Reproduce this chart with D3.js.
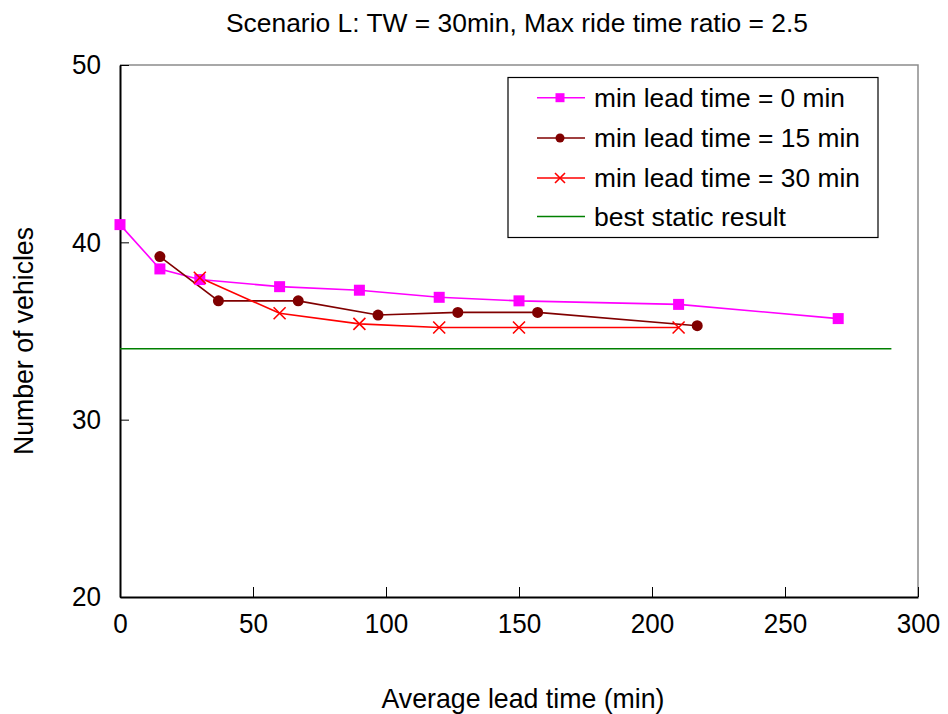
<!DOCTYPE html>
<html>
<head>
<meta charset="utf-8">
<script src="https://cdn.jsdelivr.net/npm/d3@7"></script>
<style>
  html, body { margin: 0; padding: 0; background: #fff; }
  svg { display: block; font-family: "Liberation Sans", Arial, sans-serif; }
</style>
</head>
<body>
<svg id="chart" width="948" height="714"></svg>
<script>
// ---- data ----
const title = "Scenario L: TW = 30min, Max ride time ratio = 2.5";
const xLabel = "Average lead time (min)";
const yLabel = "Number of vehicles";
const xTicks = [0, 50, 100, 150, 200, 250, 300];
const yTicks = [20, 30, 40, 50];

const leadTime0 = [0, 15, 30, 60, 90, 120, 150, 210, 270];
const vehicles0 = [41.0, 38.5, 37.9, 37.5, 37.3, 36.9, 36.7, 36.5, 35.7];

const leadTime15 = [15, 37, 67, 97, 127, 157, 217];
const vehicles15 = [39.2, 36.7, 36.7, 35.9, 36.05, 36.05, 35.3];

const leadTime30 = [30, 60, 90, 120, 150, 210];
const vehicles30 = [38.0, 36.0, 35.4, 35.2, 35.2, 35.2];

const staticLead = [0, 290];
const staticVehicles = [34, 34];

const seriesNames = ["min lead time = 0 min", "min lead time = 15 min", "min lead time = 30 min", "best static result"];

// ---- layout ----
const svg = d3.select("#chart");
const pLeft = 120, pRight = 918, pTop = 65, pBottom = 597;
const x = d3.scaleLinear().domain([0, 300]).range([pLeft, pRight]);
const y = d3.scaleLinear().domain([20, 50]).range([pBottom, pTop]);

const series = [
  { name: seriesNames[0], xs: leadTime0, ys: vehicles0, color: "#FF00FF", marker: "square" },
  { name: seriesNames[1], xs: leadTime15, ys: vehicles15, color: "#800000", marker: "circle" },
  { name: seriesNames[2], xs: leadTime30, ys: vehicles30, color: "#FF0000", marker: "cross" },
  { name: seriesNames[3], xs: staticLead, ys: staticVehicles, color: "#008000", marker: "none" }
];

// plot border (top & right gray)
svg.append("path")
  .attr("d", `M${pLeft},${pTop}H${pRight}V${pBottom}`)
  .attr("fill", "none").attr("stroke", "#8c8c8c").attr("stroke-width", 1.5);

// axes
const xAxis = d3.axisBottom(x).tickValues(xTicks).tickSizeInner(-10).tickSizeOuter(0).tickPadding(28);
const yAxis = d3.axisLeft(y).tickValues(yTicks).tickSizeInner(-9).tickSizeOuter(0).tickPadding(19);

const gx = svg.append("g").attr("transform", `translate(0,${pBottom})`).call(xAxis);
const gy = svg.append("g").attr("transform", `translate(${pLeft},0)`).call(yAxis);
[gx, gy].forEach(g => {
  g.select(".domain").attr("stroke", "#000").attr("stroke-width", 2);
  g.selectAll(".tick line").attr("stroke", "#000").attr("stroke-width", 1);
  g.selectAll(".tick text").attr("font-size", 28).attr("fill", "#000")
    .attr("font-family", "'Liberation Sans', Arial, sans-serif")
    .attr("textLength", d => String(d).length * 14.5).attr("lengthAdjust", "spacingAndGlyphs");
});
gx.selectAll(".tick text").attr("dy", "0.3em");

// markers
function drawMarker(g, type, cx, cy, color, s) {
  if (type === "square") {
    g.append("rect").attr("x", cx - s / 2).attr("y", cy - s / 2).attr("width", s).attr("height", s).attr("fill", color);
  } else if (type === "circle") {
    g.append("circle").attr("cx", cx).attr("cy", cy).attr("r", s / 2).attr("fill", color);
  } else if (type === "cross") {
    const h = s / 2;
    g.append("path").attr("d", `M${cx - h},${cy - h}L${cx + h},${cy + h}M${cx - h},${cy + h}L${cx + h},${cy - h}`)
      .attr("stroke", color).attr("stroke-width", 1.6).attr("fill", "none");
  }
}

const line = d3.line().x(d => x(d[0])).y(d => y(d[1]));
const markerSize = { square: 11, circle: 11, cross: 12 };

// draw static line first, then series
const order = [3, 0, 1, 2];
order.forEach(i => {
  const s = series[i];
  const pts = s.xs.map((v, j) => [v, s.ys[j]]);
  svg.append("path").datum(pts).attr("d", line)
    .attr("fill", "none").attr("stroke", s.color).attr("stroke-width", 1.6);
});
order.forEach(i => {
  const s = series[i];
  if (s.marker === "none") return;
  const g = svg.append("g");
  s.xs.forEach((v, j) => drawMarker(g, s.marker, x(v), y(s.ys[j]), s.color, markerSize[s.marker]));
});

// legend
const lg = svg.append("g");
lg.append("rect").attr("x", 508).attr("y", 77.5).attr("width", 370).attr("height", 160)
  .attr("fill", "#fff").attr("stroke", "#000").attr("stroke-width", 1.2);
const rowY = [97.7, 138, 178, 216.5];
const textW = [251, 266, 266, 192];
const legendMarker = { square: 9, circle: 9, cross: 10 };
series.forEach((s, i) => {
  lg.append("line").attr("x1", 537).attr("x2", 585).attr("y1", rowY[i]).attr("y2", rowY[i])
    .attr("stroke", s.color).attr("stroke-width", 1.6);
  if (s.marker !== "none") drawMarker(lg, s.marker, 560, rowY[i], s.color, legendMarker[s.marker]);
  lg.append("text").attr("x", 594).attr("y", rowY[i]).attr("dy", "0.36em")
    .attr("font-size", 26).attr("fill", "#000")
    .attr("textLength", textW[i]).attr("lengthAdjust", "spacingAndGlyphs")
    .text(s.name);
});

// title
svg.append("text").attr("x", 517).attr("y", 32).attr("text-anchor", "middle")
  .attr("font-size", 26).attr("fill", "#000")
  .attr("textLength", 582).attr("lengthAdjust", "spacingAndGlyphs")
  .text(title);

// axis titles
svg.append("text").attr("x", 523).attr("y", 708).attr("text-anchor", "middle")
  .attr("font-size", 28).attr("fill", "#000")
  .attr("textLength", 283).attr("lengthAdjust", "spacingAndGlyphs")
  .text(xLabel);

svg.append("text").attr("transform", "translate(33,341) rotate(-90)").attr("text-anchor", "middle")
  .attr("font-size", 28).attr("fill", "#000")
  .attr("textLength", 228).attr("lengthAdjust", "spacingAndGlyphs")
  .text(yLabel);
</script>
</body>
</html>
